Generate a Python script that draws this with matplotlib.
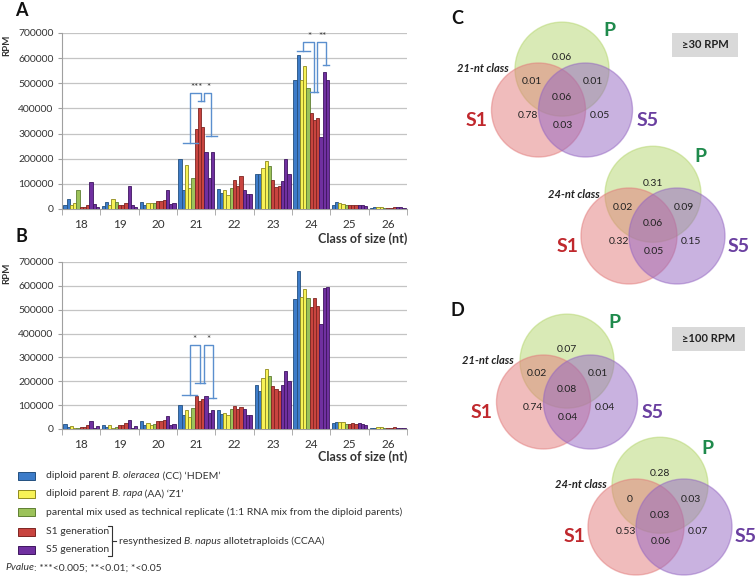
import numpy as np
import matplotlib.pyplot as plt
from matplotlib.patches import Circle, Rectangle

plt.rcParams['font.family'] = ['Lato', 'DejaVu Sans']

W, H = 756, 576

size_classes = ['18', '19', '20', '21', '22', '23', '24', '25', '26']
bar_groups = ['blue', 'blue', 'yellow', 'yellow', 'green',
              'red', 'red', 'red', 'purple', 'purple', 'purple']

# RPM x 1000, one row per size class, 11 libraries per class
rpm_a = np.array([
    [16, 40, 15, 22, 74, 8, 8, 16, 107, 19, 7],
    [13, 27, 17, 38, 27, 16, 16, 24, 91, 14, 9],
    [27, 16, 24, 24, 24, 32, 33, 37, 75, 19, 25],
    [200, 77, 175, 84, 123, 318, 400, 325, 228, 125, 228],
    [78, 62, 75, 55, 83, 115, 93, 132, 77, 60, 60],
    [138, 140, 162, 190, 172, 117, 88, 92, 113, 200, 140],
    [513, 612, 513, 567, 482, 383, 355, 360, 288, 543, 515],
    [17, 28, 22, 20, 17, 14, 14, 14, 16, 16, 13],
    [3, 8, 6, 7, 5, 4, 5, 7, 7, 6, 4],
]) * 1000

rpm_b = np.array([
    [20, 8, 12, 5, 4, 8, 10, 15, 32, 4, 12],
    [17, 8, 17, 5, 10, 17, 18, 25, 37, 4, 14],
    [33, 15, 25, 15, 20, 33, 32, 38, 55, 15, 22],
    [100, 60, 80, 50, 88, 140, 118, 125, 140, 68, 80],
    [78, 63, 68, 60, 83, 95, 83, 93, 83, 60, 60],
    [185, 160, 215, 250, 222, 180, 168, 160, 183, 245, 200],
    [543, 662, 553, 587, 550, 510, 550, 515, 440, 590, 595],
    [25, 30, 30, 30, 20, 20, 25, 23, 27, 20, 18],
    [3, 6, 7, 7, 3, 4, 6, 7, 6, 4, 3],
]) * 1000

# venn fractions: P, S1&P, P&S5, all, S1, S1&S5, S5
venn_c21 = ['0.06', '0.01', '0.01', '0.06', '0.78', '0.03', '0.05']
venn_c24 = ['0.31', '0.02', '0.09', '0.06', '0.32', '0.05', '0.15']
venn_d21 = ['0.07', '0.02', '0.01', '0.08', '0.74', '0.04', '0.04']
venn_d24 = ['0.28', '0', '0.03', '0.03', '0.53', '0.06', '0.07']

fill = {'blue': '#3d7cc9', 'yellow': '#f7f257', 'green': '#9cc25a',
        'red': '#c8443f', 'purple': '#7030a0'}
edge = {'blue': '#24507f', 'yellow': '#8f8a1e', 'green': '#5f7f33',
        'red': '#7e2522', 'purple': '#3f1560'}
bracket_col = '#5b8fce'
txt = '#333333'

fig = plt.figure(figsize=(W / 100, H / 100), dpi=100)


def px_axes(x0, y0, x1, y1):
    return fig.add_axes([x0 / W, 1 - y1 / H, (x1 - x0) / W, (y1 - y0) / H])


def sig(ax, x0, x1, ytop, yl, yr, hwl, hwr, stars, sx):
    kw = dict(color=bracket_col, lw=1.0, clip_on=False, zorder=5)
    ax.plot([x0, x0, x1, x1], [yl, ytop, ytop, yr], **kw)
    if hwl:
        ax.plot([x0 - hwl, x0 + hwl], [yl, yl], **kw)
    if hwr:
        ax.plot([x1 - hwr, x1 + hwr], [yr, yr], **kw)
    ax.text(sx, ytop + 4000, stars, ha='center', va='bottom', fontsize=7,
            color=txt, clip_on=False)


def bar_panel(ax, data):
    n = len(bar_groups)
    w = 0.085
    for j, g in enumerate(bar_groups):
        x = np.arange(len(size_classes)) + (j - (n - 1) / 2) * w
        ax.bar(x, data[:, j], width=w, color=fill[g], edgecolor=edge[g],
               linewidth=0.6, zorder=3)
    ax.set_xlim(-0.5, len(size_classes) - 0.5)
    ax.set_ylim(0, 700000)
    ax.set_yticks(np.arange(0, 700001, 100000))
    ax.set_yticklabels([str(v) for v in range(0, 700001, 100000)])
    ax.set_xticks(range(len(size_classes)))
    ax.set_xticklabels(size_classes)
    ax.set_xticks(np.arange(-0.5, len(size_classes)), minor=True)
    ax.tick_params(axis='x', which='major', length=0, labelsize=8.5,
                   labelcolor=txt, pad=7)
    ax.tick_params(axis='x', which='minor', length=4, color='#a0a0a0')
    ax.tick_params(axis='y', length=3, color='#a0a0a0', labelsize=7.5,
                   labelcolor=txt, pad=3)
    ax.grid(axis='y', color='#c4c4c4', lw=0.9, zorder=0)
    for s in ['top', 'right']:
        ax.spines[s].set_visible(False)
    for s in ['left', 'bottom']:
        ax.spines[s].set_color('#a0a0a0')
    ax.set_ylabel('RPM', fontsize=7, fontweight='bold', color=txt)
    ax.yaxis.set_label_coords(-0.148, 0.93)
    ax.text(1.0, -0.13, 'Class of size (nt)', transform=ax.transAxes,
            ha='right', va='top', fontsize=9, fontweight='bold', color=txt)


ax_a = px_axes(62, 33, 407, 209)
bar_panel(ax_a, rpm_a)
sig(ax_a, 2.85, 3.13, 462000, 263000, 428000, 0.19, 0.07, '***', 3.0)
sig(ax_a, 3.21, 3.40, 462000, 428000, 289000, 0, 0.14, '*', 3.31)
sig(ax_a, 5.79, 6.08, 664000, 627000, 465000, 0.17, 0.11, '*', 5.95)
sig(ax_a, 6.16, 6.39, 664000, 465000, 571000, 0, 0.08, '**', 6.3)

ax_b = px_axes(62, 262, 407, 429)
bar_panel(ax_b, rpm_b)
sig(ax_b, 2.83, 3.11, 353000, 144000, 192000, 0.19, 0.13, '*', 2.96)
sig(ax_b, 3.20, 3.43, 353000, 192000, 132000, 0, 0.10, '*', 3.33)

# overlay in pixel coordinates
ov = fig.add_axes([0, 0, 1, 1], zorder=10)
ov.set_xlim(0, W)
ov.set_ylim(H, 0)
ov.axis('off')
ov.patch.set_alpha(0)

for lab, (x, y) in zip(['A', 'B', 'C', 'D'],
                       [(21, 10), (21, 237), (457, 18), (457, 311)]):
    ov.text(x, y, lab, ha='center', va='center', fontsize=13,
            fontweight='bold', color='#111111')

renderer = fig.canvas.get_renderer()


def rich(x, y, parts, size=7.5):
    for s, style in parts:
        t = ov.text(x, y, s, fontsize=size, fontstyle=style, va='center',
                    ha='left', color=txt)
        bb = t.get_window_extent(renderer)
        x += bb.width
    return x


legend_rows = [
    ('blue', 476, [('diploid parent ', 'normal'), ('B. oleracea', 'italic'),
                   (' (CC) \u2018HDEM\u2019', 'normal')]),
    ('yellow', 494, [('diploid parent ', 'normal'), ('B. rapa', 'italic'),
                     (' (AA) \u2018Z1\u2019', 'normal')]),
    ('green', 512, [('parental mix used as technical replicate '
                     '(1:1 RNA mix from the diploid parents)', 'normal')]),
    ('red', 532, [('S1 generation', 'normal')]),
    ('purple', 550, [('S5 generation', 'normal')]),
]
ends = []
for g, y, parts in legend_rows:
    ov.add_patch(Rectangle((18, y - 4), 17, 8, facecolor=fill[g],
                           edgecolor=edge[g], lw=0.7))
    ends.append(rich(46, y, parts))

bx = max(ends[3:]) + 3
bk = dict(color=txt, lw=0.8)
ov.plot([bx - 4, bx, bx, bx - 4], [526, 526, 556, 556], **bk)
ov.plot([bx, bx + 4], [541, 541], **bk)
rich(bx + 7, 541, [('resynthesized ', 'normal'), ('B. napus', 'italic'),
                   (' allotetraploids (CCAA)', 'normal')])
rich(5, 568, [('Pvalue', 'italic'), (': ***<0.005; **<0.01; *<0.05', 'normal')])


def venn(cx, cy, r, vals, cls):
    circ = [((cx, cy - 0.87 * r), '#b5d66e'),
            ((cx - r / 2, cy), '#e27b7b'),
            ((cx + r / 2, cy), '#9466c2')]
    for c, col in circ:
        ov.add_patch(Circle(c, r, facecolor=col, alpha=0.5,
                            edgecolor=col, lw=1.0))
    offs = [(0, -53), (-30, -28), (31, -28), (0, -12), (-34, 5), (1, 15), (38, 5)]
    for v, (dx, dy) in zip(vals, offs):
        ov.text(cx + dx, cy + dy, v, ha='center', va='center', fontsize=7.5,
                color='#222222')
    ov.text(cx + 47, cy - 79, 'P', ha='center', va='center', fontsize=14,
            fontweight='bold', color='#1f8a4c')
    ov.text(cx - 85, cy + 10, 'S1', ha='center', va='center', fontsize=14,
            fontweight='bold', color='#c0282d')
    ov.text(cx + 86, cy + 10, 'S5', ha='center', va='center', fontsize=14,
            fontweight='bold', color='#6a3fa0')
    ov.text(cx - 53, cy - 42, cls, ha='right', va='center', fontsize=8,
            fontweight='bold', fontstyle='italic', color='#222222')


venn(562, 110, 47, venn_c21, '21-nt class')
venn(653, 236, 48, venn_c24, '24-nt class')
venn(567, 402, 47, venn_d21, '21-nt class')
venn(660, 527, 48, venn_d24, '24-nt class')

for (x, y, w, h), s in [((672, 33, 66, 24), '\u226530 RPM'),
                        ((672, 327, 73, 24), '\u2265100 RPM')]:
    ov.add_patch(Rectangle((x, y), w, h, facecolor='#d9d9d9', edgecolor='none'))
    ov.text(x + w / 2, y + h / 2, s, ha='center', va='center', fontsize=8,
            fontweight='bold', color='#222222')

fig.savefig('out.png', dpi=100)
